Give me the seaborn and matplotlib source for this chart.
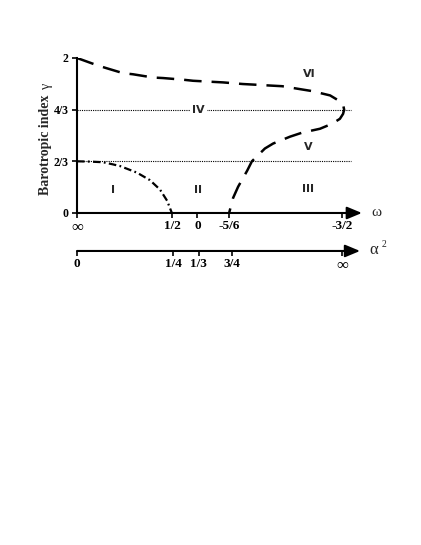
import matplotlib
matplotlib.use("Agg")
import matplotlib.pyplot as plt
import seaborn as sns

# horizontal position is a stretched coordinate: 0 = left end, 1 = right tick
omega_ticks = [0.0, 0.360, 0.454, 0.574, 1.0]
omega_labels = ["∞", "1/2", "0", "-5/6", "-3/2"]
alpha_ticks = [0.0, 0.363, 0.460, 0.585, 1.0]
alpha_labels = ["0", "1/4", "1/3", "3/4", "∞"]
gamma_ticks = [0, 2 / 3, 4 / 3, 2]
gamma_labels = ["0", "2/3", "4/3", "2"]

# dash-dot boundary (region I)
bound1_x = [0.0, 0.049, 0.098, 0.132, 0.162, 0.226, 0.275, 0.313, 0.340, 0.350, 0.358]
bound1_y = [0.667, 0.663, 0.655, 0.630, 0.606, 0.521, 0.424, 0.303, 0.158, 0.07, 0.0]

# long-dash boundary (regions III / V / VI)
bound2_x = [0.0, 0.068, 0.106, 0.174, 0.211, 0.287, 0.325, 0.400, 0.438,
            0.513, 0.551, 0.626, 0.664, 0.736, 0.774, 0.849, 0.887, 0.955,
            0.992, 1.004, 1.008, 1.004, 0.992, 0.962, 0.917, 0.849, 0.804,
            0.740, 0.709, 0.660, 0.642, 0.608, 0.589, 0.574]
bound2_y = [2.0, 1.916, 1.874, 1.804, 1.790, 1.748, 1.741, 1.720, 1.706,
            1.692, 1.685, 1.664, 1.657, 1.643, 1.636, 1.594, 1.573, 1.517,
            1.441, 1.399, 1.333, 1.279, 1.215, 1.151, 1.087, 1.036, 0.985,
            0.896, 0.832, 0.667, 0.545, 0.339, 0.194, 0.0]

regions = ["I", "II", "III", "IV", "V", "VI"]
region_x = [0.136, 0.457, 0.872, 0.457, 0.872, 0.876]
region_y = [0.30, 0.30, 0.31, 4 / 3, 0.845, 1.795]

sns.set_style("white")
plt.rcParams["font.family"] = ["Liberation Serif", "DejaVu Sans"]

fig = plt.figure(figsize=(4.21, 5.45), dpi=100)
ax = fig.add_axes([0.1829, 0.6092, 0.6767, 0.2844])
ax.set_xlim(0, 1.075)
ax.set_ylim(0, 2)

# reference levels
for g in [2 / 3, 4 / 3]:
    ax.plot([0, 1.034], [g, g], color="black", lw=0.8,
            linestyle=(0, (1, 1)), clip_on=False)

sns.lineplot(x=bound1_x, y=bound1_y, sort=False, estimator=None, ax=ax,
             color="black", lw=1.6, linestyle=(0, (3.4, 1.5, 0.8, 1.5)))
sns.lineplot(x=bound2_x, y=bound2_y, sort=False, estimator=None, ax=ax,
             color="black", lw=1.8, linestyle=(0, (7, 4)))

for name, rx, ry in zip(regions, region_x, region_y):
    ax.text(rx, ry, name, ha="center", va="center", fontsize=8,
            fontweight="bold", family="DejaVu Sans",
            bbox=dict(facecolor="white", edgecolor="none", pad=1.5) if name == "IV" else None)

for s in ["top", "right", "bottom"]:
    ax.spines[s].set_visible(False)
ax.spines["left"].set_linewidth(1.5)
ax.spines["left"].set_color("black")

arrow = dict(arrowstyle="-|>,head_length=0.6,head_width=0.25",
             lw=1.5, color="black", shrinkA=0, shrinkB=0, mutation_scale=15)
ax.annotate("", xy=(1.075, 0), xytext=(0, 0), arrowprops=arrow,
            annotation_clip=False)

ax.set_xticks(omega_ticks)
ax.set_xticklabels(omega_labels, fontsize=9.5, fontweight="bold")
ax.set_yticks(gamma_ticks)
ax.set_yticklabels(gamma_labels, fontsize=8.5, fontweight="bold")
ax.tick_params(axis="both", direction="out", length=3.5, width=1.2,
               pad=1.5, colors="black", bottom=True, left=True)
ax.tick_params(axis="y", pad=2.5)

ax.text(1.11, 0, "ω", ha="left", va="center", fontsize=11,
        clip_on=False)

fig.text(0.107, 0.735, "Barotropic index", rotation=90, ha="center",
         va="center", fontsize=10, fontweight="bold")
fig.text(0.110, 0.843, "γ", rotation=90, ha="center",
         va="center", fontsize=10)

# second horizontal scale (alpha^2)
ax2 = fig.add_axes([0.1829, 0.5395, 0.6767, 0.01])
ax2.set_xlim(0, 1.075)
ax2.set_ylim(0, 1)
for s in ["top", "right", "bottom", "left"]:
    ax2.spines[s].set_visible(False)
ax2.patch.set_visible(False)
ax2.annotate("", xy=(1.068, 0), xytext=(0, 0), arrowprops=arrow,
             annotation_clip=False)
ax2.set_yticks([])
ax2.set_xticks(alpha_ticks)
ax2.set_xticklabels(alpha_labels, fontsize=9.5, fontweight="bold")
ax2.tick_params(axis="x", direction="out", length=3.5, width=1.2,
                pad=1.5, colors="black", bottom=True)
ax2.text(1.105, 0.2, "α", ha="left", va="center", fontsize=12,
         clip_on=False)
ax2.text(1.15, 1.2, "2", ha="left", va="center", fontsize=7,
         clip_on=False)

# the infinity sign reads larger than the digits in the original
for lab in ax.get_xticklabels() + ax2.get_xticklabels():
    if lab.get_text() == "∞":
        lab.set_fontsize(12)
        lab.set_fontweight("normal")

fig.savefig("out.png", dpi=100, facecolor="white")
